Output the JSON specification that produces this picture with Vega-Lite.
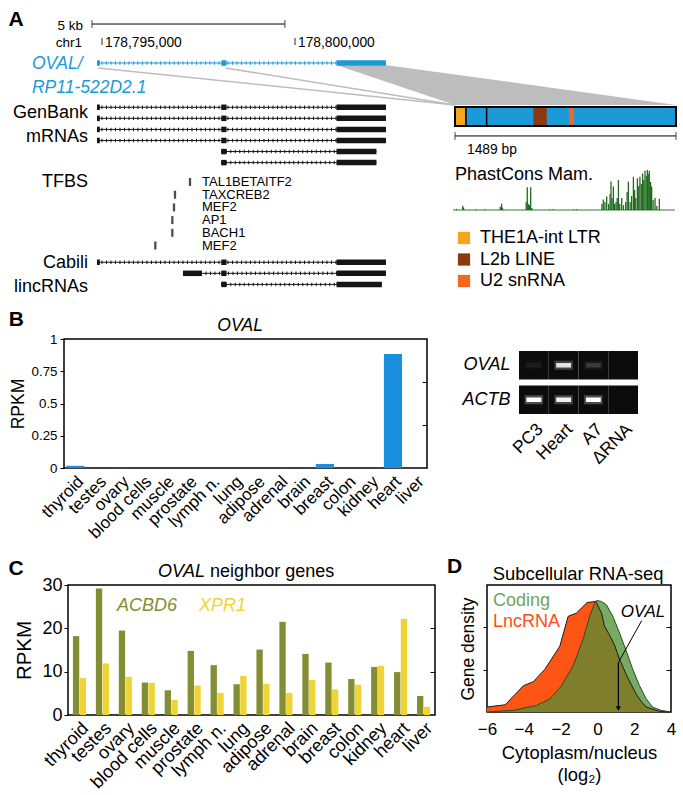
{
"$schema":"https://vega.github.io/schema/vega-lite/v6.json",
"padding":0,
"spacing":39,
"bounds":"flush",
"config":{
 "font":"Liberation Sans",
 "view":{"stroke":null},
 "axis":{"labelFont":"Liberation Sans","titleFont":"Liberation Sans","labelColor":"#000","titleColor":"#000","tickColor":"#000","domainColor":"#000","titleFontWeight":"normal","grid":false,"labelOverlap":false},
 "title":{"font":"Liberation Sans","fontWeight":"normal","color":"#000"},
 "text":{"font":"Liberation Sans","color":"#000"},
 "legend":{"labelFont":"Liberation Sans","labelColor":"#000"}
},
"datasets":{
 "tx":[
  {"tx":"OVAL","track":"OVAL","lane":0,"start":178794870,"end":178802355},
  {"tx":"GB1","track":"GenBank","lane":4,"start":178794870,"end":178802355},
  {"tx":"GB2","track":"GenBank","lane":5,"start":178794870,"end":178802355},
  {"tx":"GB3","track":"GenBank","lane":6,"start":178794870,"end":178802355},
  {"tx":"GB4","track":"GenBank","lane":7,"start":178794870,"end":178802355},
  {"tx":"GB5","track":"GenBank","lane":8,"start":178798090,"end":178802110},
  {"tx":"GB6","track":"GenBank","lane":9,"start":178798090,"end":178802110},
  {"tx":"CB1","track":"Cabili","lane":18,"start":178794870,"end":178802355},
  {"tx":"CB2","track":"Cabili","lane":19,"start":178797098,"end":178802355},
  {"tx":"CB3","track":"Cabili","lane":20,"start":178798090,"end":178802250}
 ],
 "exons":[
  {"track":"OVAL","lane":0,"start":178794870,"end":178794944},
  {"track":"OVAL","lane":0,"start":178798090,"end":178798225},
  {"track":"OVAL","lane":0,"start":178801075,"end":178802355},
  {"track":"GenBank","lane":4,"start":178794870,"end":178794944},
  {"track":"GenBank","lane":4,"start":178798090,"end":178798225},
  {"track":"GenBank","lane":4,"start":178801075,"end":178802355},
  {"track":"GenBank","lane":5,"start":178794870,"end":178794944},
  {"track":"GenBank","lane":5,"start":178798090,"end":178798225},
  {"track":"GenBank","lane":5,"start":178801075,"end":178802355},
  {"track":"GenBank","lane":6,"start":178794870,"end":178794944},
  {"track":"GenBank","lane":6,"start":178798090,"end":178798225},
  {"track":"GenBank","lane":6,"start":178801075,"end":178802355},
  {"track":"GenBank","lane":7,"start":178794870,"end":178794944},
  {"track":"GenBank","lane":7,"start":178798090,"end":178798225},
  {"track":"GenBank","lane":7,"start":178801075,"end":178802355},
  {"track":"GenBank","lane":8,"start":178798090,"end":178798225},
  {"track":"GenBank","lane":8,"start":178801075,"end":178802110},
  {"track":"GenBank","lane":9,"start":178798090,"end":178798225},
  {"track":"GenBank","lane":9,"start":178801075,"end":178802110},
  {"track":"Cabili","lane":18,"start":178794870,"end":178794944},
  {"track":"Cabili","lane":18,"start":178798090,"end":178798225},
  {"track":"Cabili","lane":18,"start":178801075,"end":178802355},
  {"track":"Cabili","lane":19,"start":178797098,"end":178797591},
  {"track":"Cabili","lane":19,"start":178798090,"end":178798225},
  {"track":"Cabili","lane":19,"start":178801075,"end":178802355},
  {"track":"Cabili","lane":20,"start":178798090,"end":178798225},
  {"track":"Cabili","lane":20,"start":178801075,"end":178802250}
 ],
 "tfbs":[
  {"tf":"TAL1BETAITF2","pos":178797280,"row":1},
  {"tf":"TAXCREB2","pos":178796891,"row":2},
  {"tf":"MEF2","pos":178796865,"row":3},
  {"tf":"AP1","pos":178796822,"row":4},
  {"tf":"BACH1","pos":178796822,"row":5},
  {"tf":"MEF2","pos":178796381,"row":6}
 ],
 "connArea":[
  {"lane":0.2,"gx1":178801088,"gx2":178802383},
  {"lane":3.79,"gx1":178804145,"gx2":178809871}
 ],
 "connLines":[
  {"c":"e1","gx":178794900,"lane":0.45},
  {"c":"e1","gx":178804145,"lane":3.79},
  {"c":"e2","gx":178798200,"lane":0.45},
  {"c":"e2","gx":178804145,"lane":3.79}
 ],
 "scalebar":[{"start":178794740,"end":178799740}],
 "chrpos":[{"pos":178795000},{"pos":178800000}],
 "tbox":[{"start":0,"end":1489}],
 "repeats":[
  {"name":"THE1A-int LTR","start":0,"end":67},
  {"name":"L2b LINE","start":528,"end":618},
  {"name":"U2 snRNA","start":768,"end":802}
 ],
 "exonbounds":[{"pos":74},{"pos":213}],
 "phast":[
  {"pos":10,"score":0.03},{"pos":52,"score":0.1},{"pos":58,"score":0.06},{"pos":140,"score":0.02},{"pos":200,"score":0.02},
  {"pos":305,"score":0.08},{"pos":314,"score":0.16},{"pos":320,"score":0.06},{"pos":480,"score":0.2},{"pos":487,"score":0.57},
  {"pos":495,"score":0.15},{"pos":503,"score":0.12},{"pos":510,"score":0.57},{"pos":518,"score":0.05},{"pos":640,"score":0.02},
  {"pos":660,"score":0.02},{"pos":800,"score":0.02},{"pos":820,"score":0.02},{"pos":990,"score":0.15},{"pos":999,"score":0.26},
  {"pos":1010,"score":0.2},{"pos":1022,"score":0.34},{"pos":1035,"score":0.15},{"pos":1045,"score":0.4},{"pos":1051,"score":0.71},
  {"pos":1058,"score":0.3},{"pos":1067,"score":0.59},{"pos":1075,"score":0.15},{"pos":1085,"score":0.2},{"pos":1093,"score":0.3},
  {"pos":1101,"score":0.75},{"pos":1110,"score":0.15},{"pos":1123,"score":0.3},{"pos":1135,"score":0.12},{"pos":1150,"score":0.2},
  {"pos":1160,"score":0.45},{"pos":1168,"score":0.71},{"pos":1180,"score":0.2},{"pos":1190,"score":0.35},{"pos":1202,"score":0.83},
  {"pos":1210,"score":0.5},{"pos":1218,"score":0.3},{"pos":1229,"score":0.79},{"pos":1238,"score":0.6},{"pos":1246,"score":0.83},
  {"pos":1255,"score":0.65},{"pos":1264,"score":0.91},{"pos":1272,"score":0.75},{"pos":1280,"score":0.98},{"pos":1288,"score":0.85},
  {"pos":1296,"score":1.0},{"pos":1302,"score":0.9},{"pos":1309,"score":0.98},{"pos":1318,"score":0.7},{"pos":1325,"score":0.59},
  {"pos":1335,"score":0.25},{"pos":1348,"score":0.3},{"pos":1360,"score":0.1},{"pos":1377,"score":0.28}
 ],
 "ovalExpr":[
  {"tissue":"thyroid","rpkm":0.017},{"tissue":"testes","rpkm":0},{"tissue":"ovary","rpkm":0},{"tissue":"blood cells","rpkm":0},
  {"tissue":"muscle","rpkm":0},{"tissue":"prostate","rpkm":0},{"tissue":"lymph n.","rpkm":0},{"tissue":"lung","rpkm":0},
  {"tissue":"adipose","rpkm":0},{"tissue":"adrenal","rpkm":0},{"tissue":"brain","rpkm":0},{"tissue":"breast","rpkm":0.031},
  {"tissue":"colon","rpkm":0},{"tissue":"kidney","rpkm":0},{"tissue":"heart","rpkm":0.884},{"tissue":"liver","rpkm":0}
 ],
 "neighbors":[
  {"tissue":"thyroid","gene":"ACBD6","rpkm":18.2},{"tissue":"thyroid","gene":"XPR1","rpkm":8.5},
  {"tissue":"testes","gene":"ACBD6","rpkm":29.2},{"tissue":"testes","gene":"XPR1","rpkm":11.9},
  {"tissue":"ovary","gene":"ACBD6","rpkm":19.5},{"tissue":"ovary","gene":"XPR1","rpkm":8.8},
  {"tissue":"blood cells","gene":"ACBD6","rpkm":7.5},{"tissue":"blood cells","gene":"XPR1","rpkm":7.4},
  {"tissue":"muscle","gene":"ACBD6","rpkm":5.7},{"tissue":"muscle","gene":"XPR1","rpkm":3.5},
  {"tissue":"prostate","gene":"ACBD6","rpkm":14.8},{"tissue":"prostate","gene":"XPR1","rpkm":6.8},
  {"tissue":"lymph n.","gene":"ACBD6","rpkm":11.5},{"tissue":"lymph n.","gene":"XPR1","rpkm":5.1},
  {"tissue":"lung","gene":"ACBD6","rpkm":7.1},{"tissue":"lung","gene":"XPR1","rpkm":9.0},
  {"tissue":"adipose","gene":"ACBD6","rpkm":15.1},{"tissue":"adipose","gene":"XPR1","rpkm":7.2},
  {"tissue":"adrenal","gene":"ACBD6","rpkm":21.5},{"tissue":"adrenal","gene":"XPR1","rpkm":5.1},
  {"tissue":"brain","gene":"ACBD6","rpkm":14.1},{"tissue":"brain","gene":"XPR1","rpkm":8.1},
  {"tissue":"breast","gene":"ACBD6","rpkm":12.1},{"tissue":"breast","gene":"XPR1","rpkm":5.9},
  {"tissue":"colon","gene":"ACBD6","rpkm":8.3},{"tissue":"colon","gene":"XPR1","rpkm":7.0},
  {"tissue":"kidney","gene":"ACBD6","rpkm":11.1},{"tissue":"kidney","gene":"XPR1","rpkm":11.3},
  {"tissue":"heart","gene":"ACBD6","rpkm":9.9},{"tissue":"heart","gene":"XPR1","rpkm":22.2},
  {"tissue":"liver","gene":"ACBD6","rpkm":4.4},{"tissue":"liver","gene":"XPR1","rpkm":1.9}
 ],
 "gel":[
  {"lane":"PC3","gene":"OVAL","intensity":0.05},{"lane":"Heart","gene":"OVAL","intensity":0.85},
  {"lane":"A7","gene":"OVAL","intensity":0.15},{"lane":"ΔRNA","gene":"OVAL","intensity":0},
  {"lane":"PC3","gene":"ACTB","intensity":1},{"lane":"Heart","gene":"ACTB","intensity":0.92},
  {"lane":"A7","gene":"ACTB","intensity":1},{"lane":"ΔRNA","gene":"ACTB","intensity":0}
 ],
 "lnc":[
  {"x":-6,"y":0.039},{"x":-5.01,"y":0.057},{"x":-4.02,"y":0.207},{"x":-3.48,"y":0.239},{"x":-2.85,"y":0.337},
  {"x":-2.04,"y":0.519},{"x":-1.59,"y":0.753},{"x":-1.14,"y":0.779},{"x":-0.56,"y":0.862},{"x":-0.09,"y":0.87},
  {"x":0.22,"y":0.78},{"x":0.39,"y":0.675},{"x":0.68,"y":0.6},{"x":0.95,"y":0.52},{"x":1.2,"y":0.415},
  {"x":1.65,"y":0.27},{"x":2.11,"y":0.14},{"x":2.4,"y":0.08},{"x":2.65,"y":0.039},{"x":3.37,"y":0.005},{"x":4,"y":0}
 ],
 "coding":[
  {"x":-6,"y":0},{"x":-4.56,"y":0.013},{"x":-3.3,"y":0.052},{"x":-2.58,"y":0.104},{"x":-1.95,"y":0.207},
  {"x":-1.32,"y":0.363},{"x":-0.78,"y":0.571},{"x":-0.42,"y":0.753},{"x":-0.15,"y":0.857},{"x":-0.05,"y":0.878},
  {"x":0.22,"y":0.87},{"x":0.49,"y":0.844},{"x":0.84,"y":0.753},{"x":1.2,"y":0.623},{"x":1.57,"y":0.48},
  {"x":1.92,"y":0.337},{"x":2.29,"y":0.207},{"x":2.65,"y":0.104},{"x":3.0,"y":0.039},{"x":3.46,"y":0.013},{"x":4,"y":0}
 ],
 "overlap":[
  {"x":-6,"y":0},{"x":-4.56,"y":0.013},{"x":-3.3,"y":0.052},{"x":-2.58,"y":0.104},{"x":-1.95,"y":0.207},
  {"x":-1.32,"y":0.363},{"x":-0.78,"y":0.571},{"x":-0.42,"y":0.753},{"x":-0.15,"y":0.857},{"x":-0.06,"y":0.868},
  {"x":0.22,"y":0.78},{"x":0.39,"y":0.675},{"x":0.68,"y":0.6},{"x":0.95,"y":0.52},{"x":1.2,"y":0.415},
  {"x":1.65,"y":0.27},{"x":2.11,"y":0.14},{"x":2.4,"y":0.08},{"x":2.65,"y":0.039},{"x":3.37,"y":0.005},{"x":4,"y":0}
 ]
},
"vconcat":[
 {
  "width":683,"height":300,
  "resolve":{"scale":{"x":"independent","y":"independent","color":"independent"}},
  "layer":[
   {"layer":[
    {"data":{"name":"connArea"},"mark":{"type":"area","orient":"horizontal","color":"#bdbdbd"},
     "encoding":{"y":{"field":"lane","type":"quantitative","scale":{"domain":[-5.69,21.41],"reverse":true,"nice":false,"zero":false},"axis":null},
      "x":{"field":"gx1","type":"quantitative","scale":{"domain":[178792357.5,178810052],"nice":false,"zero":false},"axis":null},"x2":{"field":"gx2"}}},
    {"data":{"name":"connLines"},"mark":{"type":"line","color":"#bdbdbd","strokeWidth":1.5},
     "encoding":{"x":{"field":"gx","type":"quantitative","scale":{"domain":[178792357.5,178810052],"nice":false,"zero":false},"axis":null},
      "y":{"field":"lane","type":"quantitative","scale":{"domain":[-5.69,21.41],"reverse":true,"nice":false,"zero":false},"axis":null},
      "detail":{"field":"c","type":"nominal"}}},
    {"data":{"name":"scalebar"},"mark":{"type":"rule","color":"#000","strokeWidth":1},
     "encoding":{"x":{"field":"start","type":"quantitative","scale":{"domain":[178792357.5,178810052],"nice":false,"zero":false},"axis":null},"x2":{"field":"end"},
      "y":{"datum":-3.52,"type":"quantitative","scale":{"domain":[-5.69,21.41],"reverse":true,"nice":false,"zero":false},"axis":null}}},
    {"data":{"name":"scalebar"},"mark":{"type":"tick","orient":"vertical","color":"#000","size":8,"thickness":1},
     "encoding":{"x":{"field":"start","type":"quantitative","scale":{"domain":[178792357.5,178810052],"nice":false,"zero":false},"axis":null},
      "y":{"datum":-3.52,"type":"quantitative","scale":{"domain":[-5.69,21.41],"reverse":true,"nice":false,"zero":false},"axis":null}}},
    {"data":{"name":"scalebar"},"mark":{"type":"tick","orient":"vertical","color":"#000","size":8,"thickness":1},
     "encoding":{"x":{"field":"end","type":"quantitative","scale":{"domain":[178792357.5,178810052],"nice":false,"zero":false},"axis":null},
      "y":{"datum":-3.52,"type":"quantitative","scale":{"domain":[-5.69,21.41],"reverse":true,"nice":false,"zero":false},"axis":null}}},
    {"data":{"values":[{}]},"mark":{"type":"text","text":"5 kb","align":"right","baseline":"middle","fontSize":13.5},
     "encoding":{"x":{"datum":178794508,"type":"quantitative","scale":{"domain":[178792357.5,178810052],"nice":false,"zero":false},"axis":null},
      "y":{"datum":-3.34,"type":"quantitative","scale":{"domain":[-5.69,21.41],"reverse":true,"nice":false,"zero":false},"axis":null}}},
    {"data":{"values":[{}]},"mark":{"type":"text","text":"chr1","align":"right","baseline":"middle","fontSize":13.5},
     "encoding":{"x":{"datum":178794482,"type":"quantitative","scale":{"domain":[178792357.5,178810052],"nice":false,"zero":false},"axis":null},
      "y":{"datum":-1.81,"type":"quantitative","scale":{"domain":[-5.69,21.41],"reverse":true,"nice":false,"zero":false},"axis":null}}},
    {"data":{"name":"chrpos"},"mark":{"type":"tick","orient":"vertical","color":"#000","size":7,"thickness":1.2},
     "encoding":{"x":{"field":"pos","type":"quantitative","scale":{"domain":[178792357.5,178810052],"nice":false,"zero":false},"axis":null},
      "y":{"datum":-1.95,"type":"quantitative","scale":{"domain":[-5.69,21.41],"reverse":true,"nice":false,"zero":false},"axis":null}}},
    {"data":{"name":"chrpos"},"mark":{"type":"text","align":"left","baseline":"middle","dx":3,"fontSize":13.8},
     "encoding":{"x":{"field":"pos","type":"quantitative","scale":{"domain":[178792357.5,178810052],"nice":false,"zero":false},"axis":null},
      "y":{"datum":-1.81,"type":"quantitative","scale":{"domain":[-5.69,21.41],"reverse":true,"nice":false,"zero":false},"axis":null},
      "text":{"field":"pos","type":"quantitative","format":","}}},
    {"data":{"name":"tx"},"mark":{"type":"rule","strokeWidth":1},
     "encoding":{"x":{"field":"start","type":"quantitative","scale":{"domain":[178792357.5,178810052],"nice":false,"zero":false},"axis":null},"x2":{"field":"end"},
      "y":{"field":"lane","type":"quantitative","scale":{"domain":[-5.69,21.41],"reverse":true,"nice":false,"zero":false},"axis":null},
      "color":{"field":"track","type":"nominal","scale":{"domain":["OVAL","GenBank","Cabili"],"range":["#1b9ad8","#151515","#151515"]},"legend":null}}},
    {"data":{"name":"tx"},"mark":{"type":"rule","strokeWidth":3.5,"strokeDash":[1,3.5]},
     "encoding":{"x":{"field":"start","type":"quantitative","scale":{"domain":[178792357.5,178810052],"nice":false,"zero":false},"axis":null},"x2":{"field":"end"},
      "y":{"field":"lane","type":"quantitative","scale":{"domain":[-5.69,21.41],"reverse":true,"nice":false,"zero":false},"axis":null},
      "color":{"field":"track","type":"nominal","scale":{"domain":["OVAL","GenBank","Cabili"],"range":["#1b9ad8","#151515","#151515"]},"legend":null}}},
    {"data":{"name":"exons"},"mark":{"type":"rule","strokeWidth":5.5,"strokeCap":"butt"},
     "encoding":{"x":{"field":"start","type":"quantitative","scale":{"domain":[178792357.5,178810052],"nice":false,"zero":false},"axis":null},"x2":{"field":"end"},
      "y":{"field":"lane","type":"quantitative","scale":{"domain":[-5.69,21.41],"reverse":true,"nice":false,"zero":false},"axis":null},
      "color":{"field":"track","type":"nominal","scale":{"domain":["OVAL","GenBank","Cabili"],"range":["#1b9ad8","#151515","#151515"]},"legend":null}}},
    {"data":{"values":[{}]},"mark":{"type":"text","text":"A","fontSize":21,"fontWeight":"bold","baseline":"middle","dx":-86,"dy":-4.5},
     "encoding":{"x":{"datum":178795000,"type":"quantitative","scale":{"domain":[178792357.5,178810052],"nice":false,"zero":false},"axis":null},
      "y":{"datum":-3.52,"type":"quantitative","scale":{"domain":[-5.69,21.41],"reverse":true,"nice":false,"zero":false},"axis":null}}},
    {"data":{"values":[{}]},"mark":{"type":"text","text":["OVAL/","RP11-522D2.1"],"lineHeight":24,"align":"left","baseline":"middle","fontSize":17.5,"fontStyle":"italic","color":"#1b9ad8"},
     "encoding":{"x":{"datum":178793186,"type":"quantitative","scale":{"domain":[178792357.5,178810052],"nice":false,"zero":false},"axis":null},
      "y":{"datum":0.1,"type":"quantitative","scale":{"domain":[-5.69,21.41],"reverse":true,"nice":false,"zero":false},"axis":null}}},
    {"data":{"values":[{}]},"mark":{"type":"text","text":["GenBank","mRNAs"],"lineHeight":24,"align":"right","baseline":"middle","fontSize":18},
     "encoding":{"x":{"datum":178794637,"type":"quantitative","scale":{"domain":[178792357.5,178810052],"nice":false,"zero":false},"axis":null},
      "y":{"datum":4.55,"type":"quantitative","scale":{"domain":[-5.69,21.41],"reverse":true,"nice":false,"zero":false},"axis":null}}},
    {"data":{"values":[{}]},"mark":{"type":"text","text":["Cabili","lincRNAs"],"lineHeight":24,"align":"right","baseline":"middle","fontSize":18},
     "encoding":{"x":{"datum":178794637,"type":"quantitative","scale":{"domain":[178792357.5,178810052],"nice":false,"zero":false},"axis":null},
      "y":{"datum":18.1,"type":"quantitative","scale":{"domain":[-5.69,21.41],"reverse":true,"nice":false,"zero":false},"axis":null}}}
   ]},
   {"layer":[
    {"data":{"name":"tfbs"},"mark":{"type":"tick","orient":"vertical","color":"#000","size":8,"thickness":2.3},
     "encoding":{"x":{"field":"pos","type":"quantitative","scale":{"domain":[178792357.5,178810052],"nice":false,"zero":false},"axis":null},
      "y":{"field":"row","type":"quantitative","scale":{"domain":[-13.33,10.29],"reverse":true,"nice":false,"zero":false},"axis":null}}},
    {"data":{"name":"tfbs"},"mark":{"type":"text","align":"left","baseline":"middle","fontSize":13},
     "encoding":{"x":{"datum":178797591,"type":"quantitative","scale":{"domain":[178792357.5,178810052],"nice":false,"zero":false},"axis":null},
      "y":{"field":"row","type":"quantitative","scale":{"domain":[-13.33,10.29],"reverse":true,"nice":false,"zero":false},"axis":null},
      "text":{"field":"tf","type":"nominal"}}},
    {"data":{"values":[{}]},"mark":{"type":"text","text":"TFBS","align":"right","baseline":"middle","fontSize":18},
     "encoding":{"x":{"datum":178794637,"type":"quantitative","scale":{"domain":[178792357.5,178810052],"nice":false,"zero":false},"axis":null},
      "y":{"datum":1,"type":"quantitative","scale":{"domain":[-13.33,10.29],"reverse":true,"nice":false,"zero":false},"axis":null}}}
   ]},
   {"layer":[
    {"data":{"name":"tbox"},"mark":{"type":"rect","color":"#1b9ad8"},
     "encoding":{"x":{"field":"start","type":"quantitative","scale":{"domain":[-3065.6,1536.2],"nice":false,"zero":false},"axis":null},"x2":{"field":"end"},
      "y":{"datum":3.97,"type":"quantitative","scale":{"domain":[-5.69,21.41],"reverse":true,"nice":false,"zero":false},"axis":null},"y2":{"datum":5.69}}},
    {"data":{"name":"repeats"},"mark":{"type":"rect"},
     "encoding":{"x":{"field":"start","type":"quantitative","scale":{"domain":[-3065.6,1536.2],"nice":false,"zero":false},"axis":null},"x2":{"field":"end"},
      "y":{"datum":3.97,"type":"quantitative","scale":{"domain":[-5.69,21.41],"reverse":true,"nice":false,"zero":false},"axis":null},"y2":{"datum":5.69},
      "color":{"field":"name","type":"nominal","scale":{"domain":["THE1A-int LTR","L2b LINE","U2 snRNA"],"range":["#f7a51c","#8b3a10","#f5661e"]},
       "legend":{"orient":"none","legendX":455,"legendY":229,"title":null,"symbolType":"square","symbolSize":150,"symbolStrokeWidth":0,"labelFontSize":18,"rowPadding":3.5,"labelOffset":7,"padding":0}}}},
    {"data":{"name":"exonbounds"},"mark":{"type":"rule","color":"#000","strokeWidth":1.5},
     "encoding":{"x":{"field":"pos","type":"quantitative","scale":{"domain":[-3065.6,1536.2],"nice":false,"zero":false},"axis":null},
      "y":{"datum":3.97,"type":"quantitative","scale":{"domain":[-5.69,21.41],"reverse":true,"nice":false,"zero":false},"axis":null},"y2":{"datum":5.69}}},
    {"data":{"name":"tbox"},"mark":{"type":"rect","fillOpacity":0,"stroke":"#000","strokeWidth":2},
     "encoding":{"x":{"field":"start","type":"quantitative","scale":{"domain":[-3065.6,1536.2],"nice":false,"zero":false},"axis":null},"x2":{"field":"end"},
      "y":{"datum":3.97,"type":"quantitative","scale":{"domain":[-5.69,21.41],"reverse":true,"nice":false,"zero":false},"axis":null},"y2":{"datum":5.69}}},
    {"data":{"name":"tbox"},"mark":{"type":"rule","color":"#000","strokeWidth":1},
     "encoding":{"x":{"field":"start","type":"quantitative","scale":{"domain":[-3065.6,1536.2],"nice":false,"zero":false},"axis":null},"x2":{"field":"end"},
      "y":{"datum":6.59,"type":"quantitative","scale":{"domain":[-5.69,21.41],"reverse":true,"nice":false,"zero":false},"axis":null}}},
    {"data":{"name":"tbox"},"mark":{"type":"tick","orient":"vertical","color":"#000","size":8,"thickness":1},
     "encoding":{"x":{"field":"start","type":"quantitative","scale":{"domain":[-3065.6,1536.2],"nice":false,"zero":false},"axis":null},
      "y":{"datum":6.59,"type":"quantitative","scale":{"domain":[-5.69,21.41],"reverse":true,"nice":false,"zero":false},"axis":null}}},
    {"data":{"name":"tbox"},"mark":{"type":"tick","orient":"vertical","color":"#000","size":8,"thickness":1},
     "encoding":{"x":{"field":"end","type":"quantitative","scale":{"domain":[-3065.6,1536.2],"nice":false,"zero":false},"axis":null},
      "y":{"datum":6.59,"type":"quantitative","scale":{"domain":[-5.69,21.41],"reverse":true,"nice":false,"zero":false},"axis":null}}},
    {"data":{"values":[{}]},"mark":{"type":"text","text":"1489 bp","align":"left","baseline":"middle","fontSize":13.8},
     "encoding":{"x":{"datum":81,"type":"quantitative","scale":{"domain":[-3065.6,1536.2],"nice":false,"zero":false},"axis":null},
      "y":{"datum":7.86,"type":"quantitative","scale":{"domain":[-5.69,21.41],"reverse":true,"nice":false,"zero":false},"axis":null}}},
    {"data":{"values":[{}]},"mark":{"type":"text","text":"PhastCons Mam.","align":"left","baseline":"middle","fontSize":18},
     "encoding":{"x":{"datum":0,"type":"quantitative","scale":{"domain":[-3065.6,1536.2],"nice":false,"zero":false},"axis":null},
      "y":{"datum":10.12,"type":"quantitative","scale":{"domain":[-5.69,21.41],"reverse":true,"nice":false,"zero":false},"axis":null}}}
   ]},
   {"layer":[
    {"data":{"values":[{}]},"mark":{"type":"rule","color":"#2f7d2f","strokeWidth":1},
     "encoding":{"x":{"datum":-13,"type":"quantitative","scale":{"domain":[-3065.6,1536.2],"nice":false,"zero":false},"axis":null},"x2":{"datum":1482},
      "y":{"datum":0,"type":"quantitative","scale":{"domain":[-2.25,5.25],"nice":false,"zero":false},"axis":null}}},
    {"data":{"name":"phast"},"mark":{"type":"rule","color":"#1f6b1f","strokeWidth":1.3},
     "encoding":{"x":{"field":"pos","type":"quantitative","scale":{"domain":[-3065.6,1536.2],"nice":false,"zero":false},"axis":null},
      "y":{"field":"score","type":"quantitative","scale":{"domain":[-2.25,5.25],"nice":false,"zero":false},"axis":null},"y2":{"datum":0}}}
   ]}
  ]
 },
 {"spacing":246,"bounds":"flush","vconcat":[
  {"spacing":0,"bounds":"flush","hconcat":[
   {"width":64,"height":129,"data":{"values":[]},"mark":{"type":"point","opacity":0}},
   {"width":363,"height":129,
    "view":{"stroke":"#000","strokeWidth":1.5},
    "data":{"name":"ovalExpr"},
    "resolve":{"axis":{"y":"independent"}},
    "layer":[
     {"mark":{"type":"bar","color":"#1a8fdf"},
      "encoding":{"x":{"field":"tissue","type":"nominal","scale":{"domain":["thyroid","testes","ovary","blood cells","muscle","prostate","lymph n.","lung","adipose","adrenal","brain","breast","colon","kidney","heart","liver"],"paddingInner":0.2,"paddingOuter":0.1},
        "axis":{"title":null,"labelAngle":-45,"labelFontSize":17,"ticks":false,"domain":false,"labelPadding":5}},
       "y":{"field":"rpkm","type":"quantitative","scale":{"domain":[0,1],"nice":false},
        "axis":{"title":"RPKM","titleFontSize":17.5,"titlePadding":4,"values":[0,0.25,0.5,0.75,1],"format":".2~f","labelFontSize":13.3,"domain":false,"tickSize":4,"labelPadding":3,"labelOverlap":false}}}},
     {"mark":{"type":"bar","opacity":0},
      "encoding":{"x":{"field":"tissue","type":"nominal","axis":{"title":null,"labelAngle":-45,"labelFontSize":17,"ticks":false,"domain":false,"labelPadding":5}},
       "y":{"field":"rpkm","type":"quantitative","scale":{"domain":[0,1],"nice":false},
        "axis":{"orient":"right","title":null,"values":[0.3333,0.6667],"labels":false,"domain":false,"tickSize":-5}}}},
     {"data":{"values":[{}]},"mark":{"type":"text","text":"B","fontSize":21,"fontWeight":"bold","baseline":"middle","dx":-59,"dy":-19},
      "encoding":{"x":{"datum":"thyroid","type":"nominal","axis":{"title":null,"labelAngle":-45,"labelFontSize":17,"ticks":false,"domain":false,"labelPadding":5}},"y":{"datum":1,"type":"quantitative","axis":null}}},
     {"data":{"values":[{}]},"mark":{"type":"text","text":"OVAL","fontSize":17.5,"fontStyle":"italic","baseline":"middle","dx":6,"dy":-13},
      "encoding":{"x":{"datum":"lung","type":"nominal","axis":{"title":null,"labelAngle":-45,"labelFontSize":17,"ticks":false,"domain":false,"labelPadding":5}},"y":{"datum":1,"type":"quantitative","axis":null}}}
    ]
   },
   {"width":92,"height":129,"data":{"values":[]},"mark":{"type":"point","opacity":0}},
   {"width":119,"height":87,
    "data":{"name":"gel"},
    "encoding":{
     "x":{"field":"lane","type":"nominal","scale":{"domain":["PC3","Heart","A7","ΔRNA"],"paddingInner":0,"paddingOuter":0},
      "axis":{"title":null,"labelAngle":-45,"labelFontSize":17.5,"ticks":false,"domain":false,"offset":-12,"labelPadding":6}},
     "y":{"field":"gene","type":"nominal","scale":{"domain":["OVAL","ACTB"],"paddingInner":0.174,"paddingOuter":0.348},
      "axis":{"title":null,"labelFontSize":18,"labelFontStyle":"italic","ticks":false,"domain":false,"labelPadding":9}}
    },
    "layer":[
     {"mark":{"type":"rect","color":"#0c0c0c"}},
     {"mark":{"type":"rect","width":{"band":0.62},"height":{"band":0.32}},
      "encoding":{"color":{"field":"intensity","type":"quantitative","scale":{"domain":[0,1],"range":["#0c0c0c","#4a4a4a"]},"legend":null}}},
     {"mark":{"type":"rect","color":"#ffffff","width":{"band":0.5},"height":{"band":0.16}},
      "encoding":{"opacity":{"field":"intensity","type":"quantitative","scale":{"domain":[0,1],"range":[0,1]},"legend":null}}}
    ]
   }
  ]},
  {"spacing":0,"bounds":"flush","hconcat":[
   {"width":68,"height":130,"data":{"values":[]},"mark":{"type":"point","opacity":0}},
   {"width":367,"height":130,
    "view":{"stroke":"#000","strokeWidth":1.5},
    "data":{"name":"neighbors"},
    "resolve":{"axis":{"y":"independent"}},
    "layer":[
     {"mark":{"type":"bar"},
      "encoding":{"x":{"field":"tissue","type":"nominal","scale":{"domain":["thyroid","testes","ovary","blood cells","muscle","prostate","lymph n.","lung","adipose","adrenal","brain","breast","colon","kidney","heart","liver"],"paddingInner":0.43,"paddingOuter":0.215},
        "axis":{"title":null,"labelAngle":-45,"labelFontSize":18,"ticks":false,"domain":false,"labelPadding":4}},
       "xOffset":{"field":"gene","type":"nominal","scale":{"domain":["ACBD6","XPR1"],"paddingInner":0.06}},
       "y":{"field":"rpkm","type":"quantitative","scale":{"domain":[0,30],"nice":false},
        "axis":{"title":"RPKM","titleFontSize":20.5,"titlePadding":7,"values":[0,10,20,30],"labelFontSize":18,"domain":false,"tickSize":4,"labelPadding":2}},
       "color":{"field":"gene","type":"nominal","scale":{"domain":["ACBD6","XPR1"],"range":["#838d33","#f0d334"]},"legend":null}}},
     {"mark":{"type":"bar","opacity":0},
      "encoding":{"x":{"field":"tissue","type":"nominal","axis":{"title":null,"labelAngle":-45,"labelFontSize":18,"ticks":false,"domain":false,"labelPadding":4}},
       "xOffset":{"field":"gene","type":"nominal"},
       "y":{"field":"rpkm","type":"quantitative","scale":{"domain":[0,30],"nice":false},
        "axis":{"orient":"right","title":null,"values":[10,20],"labels":false,"domain":false,"tickSize":-5}}}},
     {"data":{"values":[{}]},"mark":{"type":"text","text":"C","fontSize":21,"fontWeight":"bold","baseline":"middle","dx":-63.5,"dy":-16.5},
      "encoding":{"x":{"datum":"thyroid","type":"nominal","axis":{"title":null,"labelAngle":-45,"labelFontSize":18,"ticks":false,"domain":false,"labelPadding":4}},"y":{"datum":30,"type":"quantitative","axis":null}}},
     {"data":{"values":[{}]},"mark":{"type":"text","text":"OVAL","fontSize":18,"fontStyle":"italic","align":"right","baseline":"alphabetic","dx":-12,"dy":-8},
      "encoding":{"x":{"datum":"lymph n.","type":"nominal","axis":{"title":null,"labelAngle":-45,"labelFontSize":18,"ticks":false,"domain":false,"labelPadding":4}},"y":{"datum":30,"type":"quantitative","axis":null}}},
     {"data":{"values":[{}]},"mark":{"type":"text","text":"neighbor genes","fontSize":18,"align":"left","baseline":"alphabetic","dx":-7,"dy":-8},
      "encoding":{"x":{"datum":"lymph n.","type":"nominal","axis":{"title":null,"labelAngle":-45,"labelFontSize":18,"ticks":false,"domain":false,"labelPadding":4}},"y":{"datum":30,"type":"quantitative","axis":null}}},
     {"data":{"values":[{}]},"mark":{"type":"text","text":"ACBD6","fontSize":18,"fontStyle":"italic","align":"left","baseline":"middle","dx":-8.3,"color":"#838d33"},
      "encoding":{"x":{"datum":"ovary","type":"nominal","axis":{"title":null,"labelAngle":-45,"labelFontSize":18,"ticks":false,"domain":false,"labelPadding":4}},"y":{"datum":25.15,"type":"quantitative","axis":null}}},
     {"data":{"values":[{}]},"mark":{"type":"text","text":"XPR1","fontSize":18,"fontStyle":"italic","align":"left","baseline":"middle","dx":4.9,"color":"#f0d334"},
      "encoding":{"x":{"datum":"prostate","type":"nominal","axis":{"title":null,"labelAngle":-45,"labelFontSize":18,"ticks":false,"domain":false,"labelPadding":4}},"y":{"datum":25.15,"type":"quantitative","axis":null}}}
    ]
   },
   {"width":52,"height":130,"data":{"values":[]},"mark":{"type":"point","opacity":0}},
   {"width":184,"height":127,
    "view":{"stroke":"#000","strokeWidth":1.5},
    "resolve":{"axis":{"y":"independent"}},
    "layer":[
     {"data":{"name":"lnc"},"mark":{"type":"area","color":"#ff5514","opacity":1},
      "encoding":{"x":{"field":"x","type":"quantitative","scale":{"domain":[-6,4],"nice":false,"zero":false},
        "axis":{"title":["Cytoplasm/nucleus","(log₂)"],"titleFontSize":18.4,"titlePadding":6,"titleLineHeight":22,"values":[-6,-4,-2,0,2,4],"labelFontSize":17,"domain":false,"ticks":false,"labelPadding":9,"labelOverlap":false,"labelFlush":false}},
       "y":{"field":"y","type":"quantitative","scale":{"domain":[0,1],"nice":false},
        "axis":{"title":"Gene density","titleFontSize":17.5,"titlePadding":5,"values":[0.3333,0.6667],"labels":false,"domain":false,"tickSize":4}}}},
     {"data":{"name":"coding"},"mark":{"type":"area","color":"#77aa62","opacity":1},
      "encoding":{"x":{"field":"x","type":"quantitative","axis":{"title":["Cytoplasm/nucleus","(log₂)"],"titleFontSize":18.4,"titlePadding":6,"titleLineHeight":22,"values":[-6,-4,-2,0,2,4],"labelFontSize":17,"domain":false,"ticks":false,"labelPadding":9,"labelOverlap":false,"labelFlush":false}},"y":{"field":"y","type":"quantitative","axis":null}}},
     {"data":{"name":"overlap"},"mark":{"type":"area","color":"#7f7f2b","opacity":1},
      "encoding":{"x":{"field":"x","type":"quantitative","axis":{"title":["Cytoplasm/nucleus","(log₂)"],"titleFontSize":18.4,"titlePadding":6,"titleLineHeight":22,"values":[-6,-4,-2,0,2,4],"labelFontSize":17,"domain":false,"ticks":false,"labelPadding":9,"labelOverlap":false,"labelFlush":false}},"y":{"field":"y","type":"quantitative","axis":null}}},
     {"data":{"name":"lnc"},"mark":{"type":"line","color":"#1a1a1a","strokeWidth":1},
      "encoding":{"x":{"field":"x","type":"quantitative","axis":{"title":["Cytoplasm/nucleus","(log₂)"],"titleFontSize":18.4,"titlePadding":6,"titleLineHeight":22,"values":[-6,-4,-2,0,2,4],"labelFontSize":17,"domain":false,"ticks":false,"labelPadding":9,"labelOverlap":false,"labelFlush":false}},"y":{"field":"y","type":"quantitative","axis":null}}},
     {"data":{"name":"coding"},"mark":{"type":"line","color":"#2c4a22","strokeWidth":1},
      "encoding":{"x":{"field":"x","type":"quantitative","axis":{"title":["Cytoplasm/nucleus","(log₂)"],"titleFontSize":18.4,"titlePadding":6,"titleLineHeight":22,"values":[-6,-4,-2,0,2,4],"labelFontSize":17,"domain":false,"ticks":false,"labelPadding":9,"labelOverlap":false,"labelFlush":false}},"y":{"field":"y","type":"quantitative","axis":null}}},
     {"data":{"name":"coding"},"mark":{"type":"line","opacity":0},
      "encoding":{"x":{"field":"x","type":"quantitative","axis":{"title":["Cytoplasm/nucleus","(log₂)"],"titleFontSize":18.4,"titlePadding":6,"titleLineHeight":22,"values":[-6,-4,-2,0,2,4],"labelFontSize":17,"domain":false,"ticks":false,"labelPadding":9,"labelOverlap":false,"labelFlush":false}},"y":{"field":"y","type":"quantitative","scale":{"domain":[0,1],"nice":false},
       "axis":{"orient":"right","title":null,"values":[0.3333,0.6667],"labels":false,"domain":false,"tickSize":-5}}}},
     {"data":{"values":[{}]},"mark":{"type":"rule","color":"#000","strokeWidth":1.2},
      "encoding":{"x":{"datum":1.14,"type":"quantitative","axis":{"title":["Cytoplasm/nucleus","(log₂)"],"titleFontSize":18.4,"titlePadding":6,"titleLineHeight":22,"values":[-6,-4,-2,0,2,4],"labelFontSize":17,"domain":false,"ticks":false,"labelPadding":9,"labelOverlap":false,"labelFlush":false}},"y":{"datum":0.39,"type":"quantitative","axis":null},"y2":{"datum":0.04}}},
     {"data":{"values":[{}]},"mark":{"type":"rule","color":"#000","strokeWidth":1},
      "encoding":{"x":{"datum":2.41,"type":"quantitative","axis":{"title":["Cytoplasm/nucleus","(log₂)"],"titleFontSize":18.4,"titlePadding":6,"titleLineHeight":22,"values":[-6,-4,-2,0,2,4],"labelFontSize":17,"domain":false,"ticks":false,"labelPadding":9,"labelOverlap":false,"labelFlush":false}},"x2":{"datum":1.14},"y":{"datum":0.72,"type":"quantitative","axis":null},"y2":{"datum":0.39}}},
     {"data":{"values":[{}]},"mark":{"type":"point","shape":"triangle-down","filled":true,"color":"#000","size":28,"opacity":1},
      "encoding":{"x":{"datum":1.14,"type":"quantitative","axis":{"title":["Cytoplasm/nucleus","(log₂)"],"titleFontSize":18.4,"titlePadding":6,"titleLineHeight":22,"values":[-6,-4,-2,0,2,4],"labelFontSize":17,"domain":false,"ticks":false,"labelPadding":9,"labelOverlap":false,"labelFlush":false}},"y":{"datum":0.028,"type":"quantitative","axis":null}}},
     {"data":{"values":[{}]},"mark":{"type":"text","text":"Coding","fontSize":18,"align":"left","baseline":"middle","color":"#6fa65a"},
      "encoding":{"x":{"datum":-5.67,"type":"quantitative","axis":{"title":["Cytoplasm/nucleus","(log₂)"],"titleFontSize":18.4,"titlePadding":6,"titleLineHeight":22,"values":[-6,-4,-2,0,2,4],"labelFontSize":17,"domain":false,"ticks":false,"labelPadding":9,"labelOverlap":false,"labelFlush":false}},"y":{"datum":0.874,"type":"quantitative","axis":null}}},
     {"data":{"values":[{}]},"mark":{"type":"text","text":"LncRNA","fontSize":18,"align":"left","baseline":"middle","color":"#ff4d14"},
      "encoding":{"x":{"datum":-5.67,"type":"quantitative","axis":{"title":["Cytoplasm/nucleus","(log₂)"],"titleFontSize":18.4,"titlePadding":6,"titleLineHeight":22,"values":[-6,-4,-2,0,2,4],"labelFontSize":17,"domain":false,"ticks":false,"labelPadding":9,"labelOverlap":false,"labelFlush":false}},"y":{"datum":0.709,"type":"quantitative","axis":null}}},
     {"data":{"values":[{}]},"mark":{"type":"text","text":"OVAL","fontSize":17,"fontStyle":"italic","align":"center","baseline":"middle"},
      "encoding":{"x":{"datum":2.48,"type":"quantitative","axis":{"title":["Cytoplasm/nucleus","(log₂)"],"titleFontSize":18.4,"titlePadding":6,"titleLineHeight":22,"values":[-6,-4,-2,0,2,4],"labelFontSize":17,"domain":false,"ticks":false,"labelPadding":9,"labelOverlap":false,"labelFlush":false}},"y":{"datum":0.787,"type":"quantitative","axis":null}}},
     {"data":{"values":[{}]},"mark":{"type":"text","text":"Subcellular RNA-seq","fontSize":18.4,"align":"center","baseline":"middle","dy":-11},
      "encoding":{"x":{"datum":-1.05,"type":"quantitative","axis":{"title":["Cytoplasm/nucleus","(log₂)"],"titleFontSize":18.4,"titlePadding":6,"titleLineHeight":22,"values":[-6,-4,-2,0,2,4],"labelFontSize":17,"domain":false,"ticks":false,"labelPadding":9,"labelOverlap":false,"labelFlush":false}},"y":{"datum":1,"type":"quantitative","axis":null}}},
     {"data":{"values":[{}]},"mark":{"type":"text","text":"D","fontSize":21,"fontWeight":"bold","baseline":"middle","dx":-32.5,"dy":-18},
      "encoding":{"x":{"datum":-6,"type":"quantitative","axis":{"title":["Cytoplasm/nucleus","(log₂)"],"titleFontSize":18.4,"titlePadding":6,"titleLineHeight":22,"values":[-6,-4,-2,0,2,4],"labelFontSize":17,"domain":false,"ticks":false,"labelPadding":9,"labelOverlap":false,"labelFlush":false}},"y":{"datum":1,"type":"quantitative","axis":null}}}
    ]
   }
  ]}
 ]}
]
}
